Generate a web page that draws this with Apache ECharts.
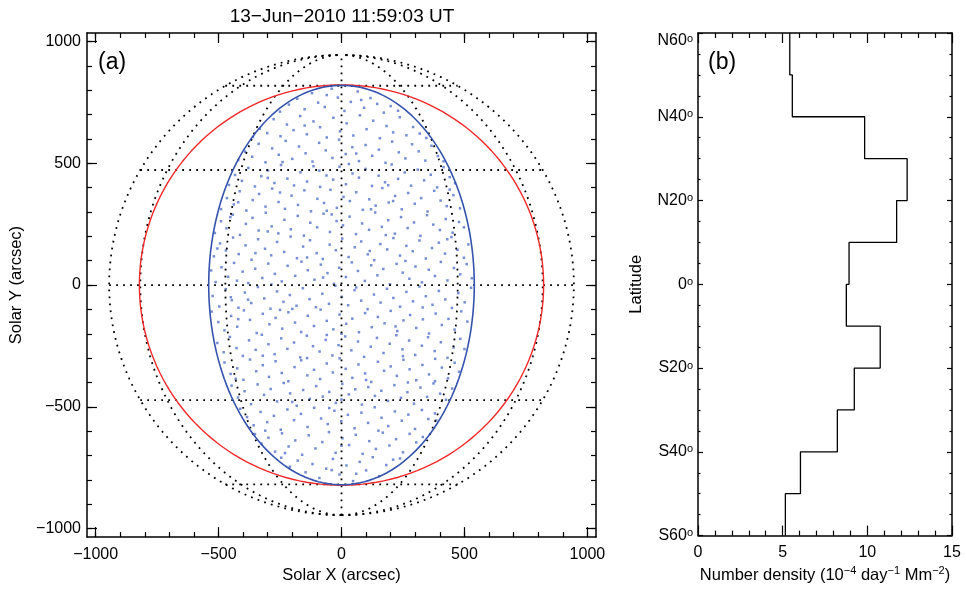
<!DOCTYPE html>
<html>
<head>
<meta charset="utf-8">
<script src="https://cdn.jsdelivr.net/npm/echarts@6/dist/echarts.min.js"></script>
<style>
  html, body { margin: 0; padding: 0; background: #fff; }
  #main { width: 966px; height: 589px; }
</style>
</head>
<body>
<div id="main"></div>
<script>
// ---- data ----
var titleText = '13\u2212Jun\u22122010 11:59:03 UT';
var sunRadius = 945;               // arcsec, outer limb
var gridLats = [-60, -30, 0, 30, 60];
var gridLons = [-90, -60, -30, 0, 30, 60, 90];
var ringRadius = 822;              // red circle
var fovHalfX = 540, fovHalfY = 820; // blue ellipse
var xyMajor = [-1000, -500, 0, 500, 1000];
var xyMinor = [-1000, -900, -800, -700, -600, -500, -400, -300, -200, -100, 0,
               100, 200, 300, 400, 500, 600, 700, 800, 900, 1000];

// panel (b): 10 degree latitude bins, listed from the north down
var binTopLat = [60, 50, 40, 30, 20, 10, 0, -10, -20, -30, -40, -50];
var binDensity = [5.42, 5.57, 9.84, 12.35, 11.73, 8.92, 8.76, 10.76, 9.23, 8.23, 6.05, 5.16];

// event positions (x, y arcsec)
var dotsNorth = [
  -512,12, -488,73, -461,34, -437,91, -402,55, -379,8, -351,67, -322,29, -298,88, -271,46, -243,15, -219,79,
  -188,38, -163,96, -137,61, -110,22, -84,84, -57,49, -31,5, -9,71, 18,33, 42,93, 67,58, 95,17, 121,81, 146,40,
  170,66, 197,3, 224,87, 249,51, 276,26, 301,76, 327,11, 355,63, 380,37, 404,95, 431,19, 457,70, 483,44, 509,86,
  530,28, -530,60, -425,18, -285,2, -75,31, 260,99,
  -519,118, -494,171, -470,142, -441,195, -418,127, -390,163, -366,104, -339,188, -311,149, -286,122, -262,177,
  -233,136, -207,199, -181,110, -156,158, -128,184, -101,131, -76,107, -48,166, -23,143, 3,191, 29,115, 54,155,
  80,179, 107,126, 133,102, 158,168, 186,146, 211,193, 238,121, 264,161, 290,139, 317,183, 343,109, 368,152,
  396,174, 421,129, 447,197, 472,145, 498,112, 516,167, -505,150, -350,131, -140,113, 115,140, 430,188,
  -515,214, -490,262, -468,233, -442,289, -413,206, -389,251, -362,276, -337,224, -308,297, -284,241, -257,212,
  -232,268, -206,229, -178,284, -153,203, -127,256, -99,237, -73,293, -47,218, -20,263, 6,245, 33,281, 59,209,
  84,253, 112,227, 137,298, 164,239, 190,266, 217,211, 242,279, 269,234, 295,257, 321,202, 348,287, 373,248,
  400,226, 424,271, 452,215, 478,259, 498,237, -452,279, -300,220, -40,290, 180,205,
  -490,312, -466,357, -438,331, -414,385, -387,306, -361,349, -335,374, -309,322, -282,396, -256,341, -230,313,
  -203,367, -177,329, -151,389, -124,303, -98,354, -71,337, -45,391, -19,317, 8,362, 34,345, 60,381, 87,309,
  113,352, 139,326, 166,398, 192,339, 218,366, 245,311, 271,378, 298,334, 324,357, 350,302, 377,387, 403,347,
  428,324, 455,369, 482,315, -250,380, -60,305, 210,345, 440,392, -420,340, 120,311,
  -458,411, -433,452, -405,428, -379,481, -352,405, -326,447, -299,470, -273,419, -246,493, -220,437, -193,409,
  -167,463, -140,425, -114,488, -87,403, -61,450, -34,433, -8,486, 18,414, 45,458, 71,441, 98,477, 124,407,
  151,449, 177,422, 204,495, 230,436, 257,462, 283,408, 310,474, 336,430, 363,453, 389,401, 415,484, 440,443,
  462,418, -300,440, -90,470, 190,410, 30,497,
  -420,513, -392,548, -363,527, -337,580, -309,504, -282,561, -255,535, -227,592, -200,518, -173,569, -146,541,
  -118,507, -91,584, -64,553, -37,522, -10,597, 17,538, 44,566, 71,509, 98,575, 125,531, 152,556, 179,502,
  206,589, 233,545, 260,520, 287,578, 314,549, 341,511, 366,572, 392,530, 415,508, -240,505, 60,540,
  -360,608, -332,642, -302,624, -276,681, -248,611, -222,659, -195,636, -168,694, -141,619, -114,672, -87,648,
  -60,606, -33,687, -6,631, 21,664, 48,614, 75,697, 102,640, 129,675, 156,603, 183,653, 210,627, 237,689,
  264,615, 291,649, 318,622, 345,604, -150,655,
  -250,712, -214,741, -180,765, -150,722, -120,788, -95,749, -68,731, -40,806, -15,770, 12,715, 38,752, 66,795,
  92,728, 118,768, 145,744, 172,708, 200,735, 230,716, -60,780, 80,760
];
var dotsSouth = [
  -524,-45, -497,-88, -471,-17, -446,-62, -419,-93, -393,-31, -367,-74, -340,-8, -314,-55, -289,-97, -262,-26,
  -236,-69, -210,-41, -183,-85, -157,-13, -130,-58, -104,-91, -78,-36, -51,-77, -25,-3, 1,-48, 27,-83, 53,-21,
  80,-64, 106,-99, 132,-39, 159,-72, 185,-15, 211,-53, 238,-89, 264,-28, 291,-67, 317,-6, 343,-46, 370,-81,
  396,-24, 422,-59, 449,-94, 475,-33, 501,-71, 527,-11, -450,-50, -200,-98, 60,-10, 330,-92, -380,-60,
  -528,-109, -501,-152, -476,-186, -449,-127, -424,-171, -397,-104, -372,-143, -345,-197, -320,-118, -293,-161,
  -268,-135, -241,-179, -216,-112, -189,-154, -164,-193, -137,-126, -112,-168, -85,-101, -60,-147, -33,-182,
  -8,-121, 19,-159, 44,-138, 71,-194, 96,-115, 123,-173, 148,-131, 175,-157, 200,-106, 227,-189, 252,-145,
  279,-123, 304,-176, 331,-141, 356,-199, 383,-117, 408,-164, 435,-139, 460,-183, 487,-108, 512,-150,
  -250,-102, 0,-200, 220,-170, -420,-140,
  -505,-238, -479,-276, -454,-213, -427,-259, -401,-291, -376,-227, -349,-266, -324,-204, -297,-243, -272,-284,
  -245,-219, -220,-262, -193,-236, -168,-297, -141,-208, -116,-251, -89,-273, -64,-225, -37,-289, -12,-247,
  15,-211, 40,-268, 67,-232, 92,-295, 119,-253, 144,-217, 171,-279, 196,-241, 223,-206, 248,-264, 275,-228,
  300,-287, 327,-249, 352,-214, 379,-271, 404,-235, 431,-299, 456,-256, 483,-221, -320,-290, -60,-205,
  250,-292, 500,-263,
  -476,-318, -451,-365, -424,-342, -399,-389, -372,-306, -347,-354, -320,-329, -295,-377, -268,-313, -243,-361,
  -216,-395, -191,-337, -164,-309, -139,-371, -112,-348, -87,-386, -60,-322, -35,-359, -8,-301, 17,-344,
  44,-381, 69,-326, 96,-363, 121,-398, 148,-315, 173,-352, 200,-334, 225,-373, 252,-307, 277,-346, 304,-391,
  329,-328, 356,-367, 381,-303, 408,-339, 433,-383, 460,-319, 478,-356, -140,-300, 100,-390, -430,-385, 380,-395,
  -447,-413, -421,-462, -394,-436, -368,-489, -341,-408, -315,-451, -288,-427, -262,-478, -235,-402, -209,-445,
  -182,-496, -156,-431, -129,-467, -103,-415, -76,-458, -50,-439, -23,-484, 3,-406, 30,-449, 56,-428, 83,-491,
  109,-419, 136,-455, 162,-434, 189,-476, 215,-411, 242,-463, 268,-440, 295,-487, 321,-421, 348,-459, 374,-404,
  401,-446, 425,-471, 450,-425, -200,-480, 0,-470, 270,-400,
  -412,-508, -384,-542, -357,-576, -329,-521, -302,-563, -275,-537, -247,-594, -220,-511, -193,-555, -165,-529,
  -138,-583, -111,-504, -83,-548, -56,-571, -29,-516, -1,-559, 26,-533, 53,-588, 81,-524, 108,-566, 135,-502,
  163,-545, 190,-579, 217,-519, 245,-557, 272,-532, 299,-591, 327,-513, 353,-550, 380,-527, 385,-556,
  -310,-598, -50,-505, 150,-598,
  -352,-612, -325,-651, -297,-627, -270,-684, -242,-609, -215,-663, -188,-638, -160,-697, -133,-617, -106,-671,
  -78,-645, -51,-604, -24,-689, 4,-629, 31,-657, 58,-615, 86,-693, 113,-641, 140,-673, 168,-606, 195,-659,
  222,-633, 250,-687, 277,-611, 304,-646, 331,-624, -230,-690, 0,-660,
  -245,-709, -210,-746, -178,-721, -146,-769, -118,-735, -90,-792, -62,-754, -35,-714, -8,-778, 20,-741,
  47,-805, 74,-726, 100,-761, 127,-707, 153,-785, 182,-739, 210,-717, 238,-712, -40,-760, 60,-775
];

// ---- build ----
var font = 'Liberation Sans';
var rad = Math.PI / 180;

function pairs(flat) {
  var out = [];
  for (var i = 0; i + 1 < flat.length; i += 2) out.push([flat[i], flat[i + 1]]);
  return out;
}
function minus(v) { return String(v).replace('-', '\u2212'); }
function latLabel(v) {
  if (v > 0) return '{t|N' + v + '}{o|o}';
  if (v < 0) return '{t|S' + (-v) + '}{o|o}';
  return '{t|0}{o|o}';
}

var dotted = { color: '#000', width: 1.8, type: [1.8, 5.2] };
var series = [];

series.push({
  type: 'scatter', xAxisIndex: 0, yAxisIndex: 0, symbol: 'rect', symbolSize: 2.5,
  itemStyle: { color: '#5470c8' }, data: pairs(dotsNorth).concat(pairs(dotsSouth)), silent: true
});

gridLats.forEach(function (lat) {
  var half = sunRadius * Math.cos(lat * rad), y = sunRadius * Math.sin(lat * rad);
  series.push({ type: 'line', xAxisIndex: 0, yAxisIndex: 0, showSymbol: false, silent: true,
    lineStyle: dotted, data: [[-half, y], [half, y]] });
});
gridLons.forEach(function (lon) {
  var pts = [];
  for (var b = -90; b <= 90; b += 2) {
    pts.push([sunRadius * Math.cos(b * rad) * Math.sin(lon * rad), sunRadius * Math.sin(b * rad)]);
  }
  series.push({ type: 'line', xAxisIndex: 0, yAxisIndex: 0, showSymbol: false, silent: true,
    lineStyle: dotted, data: pts });
});

var ring = [], fov = [];
for (var a = 0; a <= 360; a += 2) {
  ring.push([ringRadius * Math.cos(a * rad), ringRadius * Math.sin(a * rad)]);
  fov.push([fovHalfX * Math.cos(a * rad), fovHalfY * Math.sin(a * rad)]);
}
series.push({ type: 'line', xAxisIndex: 0, yAxisIndex: 0, showSymbol: false, silent: true,
  lineStyle: { color: '#f0282a', width: 1.4 }, data: ring });
series.push({ type: 'line', xAxisIndex: 0, yAxisIndex: 0, showSymbol: false, silent: true,
  lineStyle: { color: '#3553ad', width: 1.6 }, data: fov });

var stepPts = [];
binTopLat.forEach(function (top, i) {
  stepPts.push([binDensity[i], top]);
  stepPts.push([binDensity[i], top - 10]);
});
series.push({ type: 'line', xAxisIndex: 4, yAxisIndex: 4, showSymbol: false, silent: true,
  lineStyle: { color: '#000', width: 1.3 }, data: stepPts });

function axis(grid, pos, min, max, o) {
  o = o || {};
  var ax = {
    type: 'value', gridIndex: grid, position: pos, min: min, max: max,
    axisLine: { show: !o.minor, onZero: false, lineStyle: { color: '#000', width: 1.5 } },
    axisTick: { show: true, inside: true, length: o.tickLen || 10, lineStyle: { color: '#000', width: 1.2 } },
    minorTick: { show: false },
    axisLabel: { show: false },
    splitLine: { show: false }
  };
  if (o.interval) ax.interval = o.interval;
  if (o.ticks) ax.axisTick.customValues = o.ticks;
  if (o.minorSplit) {
    ax.minorTick = { show: true, splitNumber: o.minorSplit, length: o.minorLen,
      lineStyle: { color: '#000', width: 1.2 } };
  }
  if (o.label) {
    ax.axisLabel = { show: true, color: '#000', fontSize: 16, fontFamily: font,
      margin: o.margin, formatter: o.formatter };
    if (o.ticks) ax.axisLabel.customValues = o.ticks;
    if (o.rich) ax.axisLabel.rich = o.rich;
    if (o.endAlign) ax.axisLabel.verticalAlignMaxLabel = 'top';
  }
  if (o.name) {
    ax.name = o.name;
    ax.nameLocation = 'middle';
    ax.nameGap = o.nameGap;
    ax.nameTextStyle = o.nameStyle || { color: '#000', fontSize: 16.5, fontFamily: font };
  }
  return ax;
}

var latRich = {
  t: { fontSize: 16, fontFamily: font, color: '#000', lineHeight: 16 },
  o: { fontSize: 11, fontFamily: font, color: '#000', lineHeight: 11, verticalAlign: 'top' }
};
var nameRich = {
  n: { fontSize: 16.5, fontFamily: font, color: '#000', lineHeight: 20 },
  s: { fontSize: 11, fontFamily: font, color: '#000', lineHeight: 11, verticalAlign: 'top' }
};

var R = 1035;
var option = {
  animation: false,
  backgroundColor: '#fff',
  grid: [
    { left: 87, top: 33, width: 509, height: 509 },
    { left: 698, top: 33, width: 254, height: 509 }
  ],
  xAxis: [
    axis(0, 'bottom', -R, R, { ticks: xyMajor, label: true, margin: 9, formatter: minus,
      name: 'Solar X (arcsec)', nameGap: 26 }),
    axis(0, 'bottom', -R, R, { ticks: xyMinor, minor: true, tickLen: 5 }),
    axis(0, 'top', -R, R, { ticks: xyMajor }),
    axis(0, 'top', -R, R, { ticks: xyMinor, minor: true, tickLen: 5 }),
    axis(1, 'bottom', 0, 15, { interval: 5, minorSplit: 5, minorLen: 5, label: true, margin: 9,
      name: '{n|Number density (10}{s|\u22124}{n| day}{s|\u22121}{n| Mm}{s|\u22122}{n|)}', nameGap: 24,
      nameStyle: { rich: nameRich } }),
    axis(1, 'top', 0, 15, { interval: 5, minorSplit: 5, minorLen: 5 })
  ],
  yAxis: [
    axis(0, 'left', -R, R, { ticks: xyMajor, label: true, margin: 6, formatter: minus,
      name: 'Solar Y (arcsec)', nameGap: 60 }),
    axis(0, 'left', -R, R, { ticks: xyMinor, minor: true, tickLen: 5 }),
    axis(0, 'right', -R, R, { ticks: xyMajor }),
    axis(0, 'right', -R, R, { ticks: xyMinor, minor: true, tickLen: 5 }),
    axis(1, 'left', -60, 60, { interval: 20, tickLen: 5, minorSplit: 4, minorLen: 2.5, label: true,
      margin: 5, formatter: latLabel, rich: latRich, endAlign: true, name: 'Latitude', nameGap: 53 }),
    axis(1, 'right', -60, 60, { interval: 20, tickLen: 5, minorSplit: 4, minorLen: 2.5 })
  ],
  graphic: [
    { type: 'text', x: 342, y: 17, silent: true,
      style: { text: titleText, fontSize: 19, fontFamily: font, fill: '#000', align: 'center', verticalAlign: 'middle' } },
    { type: 'text', x: 98, y: 51, silent: true,
      style: { text: '(a)', fontSize: 23, fontFamily: font, fill: '#000' } },
    { type: 'text', x: 708, y: 51, silent: true,
      style: { text: '(b)', fontSize: 23, fontFamily: font, fill: '#000' } }
  ],
  series: series
};

var chart = echarts.init(document.getElementById('main'), null, { renderer: 'canvas' });
chart.setOption(option);
</script>
</body>
</html>
